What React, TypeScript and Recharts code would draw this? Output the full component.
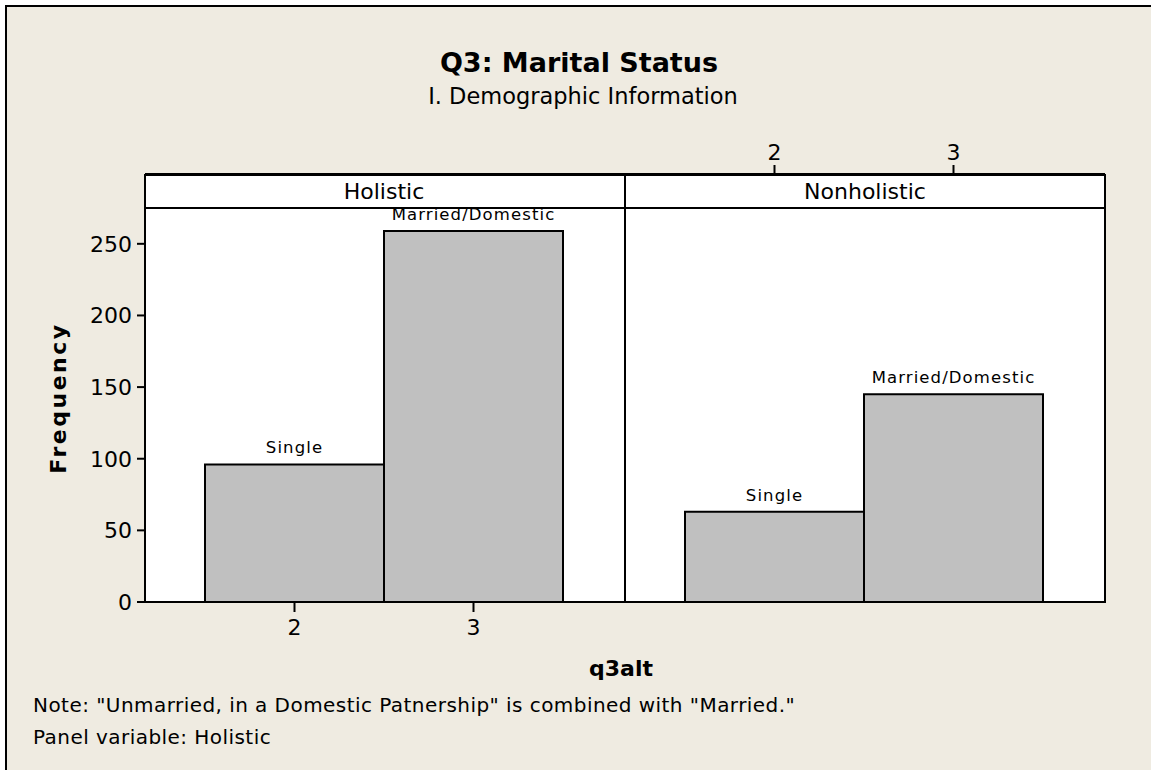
import React from 'react';
import { BarChart, Bar, XAxis, YAxis, LabelList } from 'recharts';

// q3alt categories and counts
const categories = ['2', '3'];
const statusLabels = ['Single', 'Married/Domestic'];
const holisticCounts = [96, 259];
const nonholisticCounts = [63, 145];
const freqTicks = [0, 50, 100, 150, 200, 250];

const FONT = '"DejaVu Sans", Tahoma, sans-serif';
const BG = '#EFEBE1';

const buildRows = (counts: number[]) =>
  categories.map((q, i) => ({ q, count: counts[i], status: statusLabels[i] }));

const holisticData = buildRows(holisticCounts);
const nonholisticData = buildRows(nonholisticCounts);

const tickStyle = { fontSize: 22, fill: '#000', fontFamily: FONT };
const barLabelStyle = { fontSize: 16.5, fill: '#000', fontFamily: FONT, letterSpacing: 1.1 };

const App: React.FC = () => {
  return (
    <div style={{ position: 'absolute', left: 0, top: 0, width: 1151, height: 770, background: '#fff', fontFamily: FONT }}>
      {/* frame */}
      <div
        style={{
          position: 'absolute',
          left: 5,
          top: 5,
          width: 1146,
          height: 765,
          background: BG,
          borderTop: '2px solid #000',
          borderLeft: '2px solid #000',
          boxSizing: 'border-box',
        }}
      />
      {/* white panel area */}
      <div style={{ position: 'absolute', left: 145, top: 175, width: 960, height: 427, background: '#fff' }} />

      {/* Holistic panel */}
      <div style={{ position: 'absolute', left: 0, top: 0 }}>
        <BarChart
          width={640}
          height={700}
          data={holisticData}
          margin={{ top: 208, right: 15, bottom: 58, left: 0 }}
          barCategoryGap={0}
          barGap={0}
        >
          <XAxis
            dataKey="q"
            height={40}
            padding={{ left: 60, right: 62 }}
            axisLine={false}
            tickSize={10}
            tickMargin={7}
            tickLine={{ stroke: '#000', strokeWidth: 2 }}
            tick={tickStyle}
          />
          <YAxis
            width={145}
            domain={[0, 275]}
            ticks={freqTicks}
            axisLine={false}
            tickSize={8}
            tickMargin={5}
            tickLine={{ stroke: '#000', strokeWidth: 2 }}
            tick={tickStyle}
          />
          <Bar dataKey="count" fill="#C0C0C0" stroke="#000" strokeWidth={2} isAnimationActive={false}>
            <LabelList dataKey="status" position="top" offset={11} style={barLabelStyle} />
          </Bar>
        </BarChart>
      </div>

      {/* Nonholistic panel */}
      <div style={{ position: 'absolute', left: 610, top: 0 }}>
        <BarChart
          width={530}
          height={700}
          data={nonholisticData}
          margin={{ top: 148, right: 35, bottom: 98, left: 15 }}
          barCategoryGap={0}
          barGap={0}
        >
          <XAxis
            dataKey="q"
            orientation="top"
            height={60}
            padding={{ left: 60, right: 62 }}
            axisLine={false}
            tickSize={43}
            tickMargin={5}
            tickLine={{ stroke: '#000', strokeWidth: 2 }}
            tick={tickStyle}
          />
          <YAxis hide domain={[0, 275]} />
          <Bar dataKey="count" fill="#C0C0C0" stroke="#000" strokeWidth={2} isAnimationActive={false}>
            <LabelList dataKey="status" position="top" offset={11} style={barLabelStyle} />
          </Bar>
        </BarChart>
      </div>

      {/* strips, panel borders and texts */}
      <svg width={1151} height={770} style={{ position: 'absolute', left: 0, top: 0, pointerEvents: 'none' }}>
        <rect x={145} y={175} width={960} height={33} fill="#fff" stroke="#000" strokeWidth={2} />
        <rect x={145} y={175} width={960} height={427} fill="none" stroke="#000" strokeWidth={2} />
        <line x1={145} y1={174} x2={1105} y2={174} stroke="#000" strokeWidth={2} />
        <line x1={625} y1={175} x2={625} y2={602} stroke="#000" strokeWidth={2} />
        <text x={384} y={199} textAnchor="middle" fontSize={22} fontFamily={FONT}>Holistic</text>
        <text x={865} y={199} textAnchor="middle" fontSize={22} fontFamily={FONT}>Nonholistic</text>

        <text x={579} y={72} textAnchor="middle" fontSize={27} fontWeight="bold" fontFamily={FONT}>Q3: Marital Status</text>
        <text x={583} y={104} textAnchor="middle" fontSize={22.5} fontFamily={FONT}>I. Demographic Information</text>

        <text x={66} y={398} transform="rotate(-90 66 398)" textAnchor="middle" fontSize={22} fontWeight="bold" letterSpacing={2.5} fontFamily={FONT}>Frequency</text>
        <text x={621} y={676} textAnchor="middle" fontSize={22} fontWeight="bold" fontFamily={FONT}>q3alt</text>

        <text x={33} y={712} fontSize={20} letterSpacing={0.45} fontFamily={FONT}>Note: "Unmarried, in a Domestic Patnership" is combined with "Married."</text>
        <text x={33} y={744} fontSize={20} letterSpacing={0.45} fontFamily={FONT}>Panel variable: Holistic</text>
      </svg>
    </div>
  );
};

export default App;
